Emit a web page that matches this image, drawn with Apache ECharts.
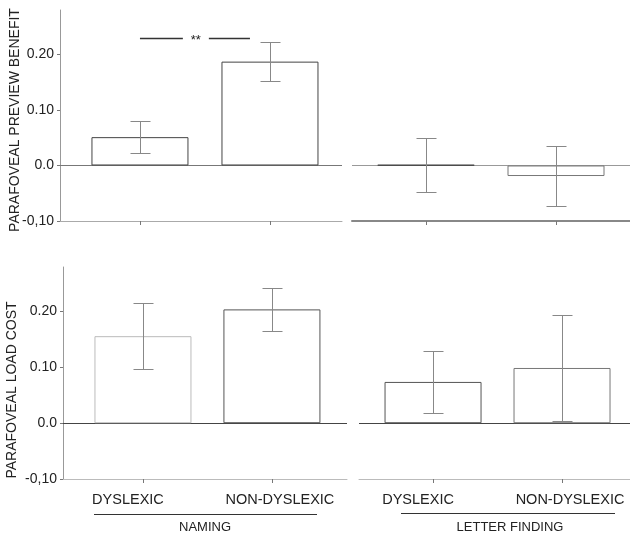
<!DOCTYPE html>
<html><head><meta charset="utf-8">
<script src="https://cdn.jsdelivr.net/npm/echarts@6/dist/echarts.min.js"></script>
<style>html,body{margin:0;padding:0;background:#fff}#c{width:630px;height:536px}</style>
</head><body><div id="c"></div>
<script>
// ---- data ----
const categories = ['DYSLEXIC', 'NON-DYSLEXIC'];
const tasks = ['NAMING', 'LETTER FINDING'];
const measures = ['PARAFOVEAL PREVIEW BENEFIT', 'PARAFOVEAL LOAD COST'];
const yTickValues = [-0.1, 0, 0.1, 0.2];
const yTickLabels = ['-0,10', '0.0', '0.10', '0.20'];
const previewNamingMean = [0.051, 0.187];
const previewNamingErr = [0.029, 0.035];
const previewLetterMean = [0.001, -0.019];
const previewLetterErr = [0.048, 0.054];
const loadNamingMean = [0.156, 0.204];
const loadNamingErr = [0.059, 0.039];
const loadLetterMean = [0.074, 0.099];
const loadLetterErr = [0.056, 0.095];
const significanceLabel = '**';
const significanceLevel = 0.229;

// ---- layout / style ----
const FONT = "'Liberation Sans', Arial, sans-serif";
const panels = [
  {mean: previewNamingMean, err: previewNamingErr, grid: {left: 60, width: 282, top: 10, height: 211}, xMin: 0.385, xMax: 2.554, showY: true, showX: false,
   zeroColor: '#777', bottomColor: '#aaa', bottomWidth: 1, borders: ['#444', '#444']},
  {mean: previewLetterMean, err: previewLetterErr, grid: {left: 352, width: 278, top: 10, height: 211}, xMin: 0.431, xMax: 2.569, showY: false, showX: false,
   zeroColor: '#999', bottomColor: '#888', bottomWidth: 2, borders: ['#444', '#777']},
  {mean: loadNamingMean, err: loadNamingErr, grid: {left: 63, width: 284, top: 267, height: 212}, xMin: 0.38, xMax: 2.582, showY: true, showX: true,
   zeroColor: '#444', bottomColor: '#bbb', bottomWidth: 1, borders: ['#bbb', '#555']},
  {mean: loadLetterMean, err: loadLetterErr, grid: {left: 359, width: 271, top: 267, height: 212}, xMin: 0.426, xMax: 2.527, showY: false, showX: true,
   zeroColor: '#444', bottomColor: '#bbb', bottomWidth: 1, borders: ['#555', '#777']}
];
const catPos = categories.map((c, i) => i + 1);

const grids = [], xAxes = [], yAxes = [], series = [];
panels.forEach((p, k) => {
  grids.push(Object.assign({containLabel: false}, p.grid));
  xAxes.push({
    type: 'value', gridIndex: k, min: p.xMin, max: p.xMax, position: 'bottom',
    axisLine: {show: true, onZero: false, lineStyle: {color: p.bottomColor, width: p.bottomWidth}},
    axisTick: {show: true, customValues: catPos, length: 4, lineStyle: {color: '#777'}},
    axisLabel: {show: p.showX, customValues: catPos, margin: 13,
      formatter: v => (Math.round(v) === 1 ? '{a|' : '{b|') + categories[Math.round(v) - 1] + '}',
      rich: {a: {fontSize: 14.5, fontFamily: FONT, color: '#222', padding: [0, 30, 0, 0]},
             b: {fontSize: 14.5, fontFamily: FONT, color: '#222', padding: [0, 0, 0, 16]}}},
    splitLine: {show: false}
  });
  yAxes.push({
    type: 'value', gridIndex: k, min: -0.1, max: 0.28, show: p.showY,
    axisLine: {show: true, onZero: false, lineStyle: {color: '#999'}},
    axisTick: {show: true, customValues: yTickValues, length: 3, lineStyle: {color: '#777'}},
    axisLabel: {customValues: yTickValues, margin: 6, fontSize: 14, fontFamily: FONT, color: '#222',
      formatter: v => { const i = yTickValues.findIndex(t => Math.abs(t - v) < 1e-6); return i >= 0 ? yTickLabels[i] : ''; }},
    splitLine: {show: false}
  });
  series.push({
    type: 'bar', xAxisIndex: k, yAxisIndex: k, barWidth: 97, silent: true, animation: false,
    data: p.mean.map((m, i) => ({value: [catPos[i], m], itemStyle: {color: '#fff', borderColor: p.borders[i], borderWidth: 1}})),
    markLine: {silent: true, z: 1, symbol: ['none', 'none'], label: {show: false}, animation: false,
      lineStyle: {color: p.zeroColor, width: 1, type: 'solid'}, data: [{yAxis: 0}]},
    z: 2
  });
  series.push({
    type: 'custom', xAxisIndex: k, yAxisIndex: k, silent: true, animation: false, z: 5,
    encode: {x: 0, y: [1, 2]},
    data: p.mean.map((m, i) => [catPos[i], m - p.err[i], m + p.err[i]]),
    renderItem: (params, api) => {
      const x = api.value(0);
      const lo = api.coord([x, api.value(1)]);
      const hi = api.coord([x, api.value(2)]);
      const cx = Math.round(lo[0]) + 0.5, y1 = Math.round(hi[1]) + 0.5, y2 = Math.round(lo[1]) + 0.5, hw = 10;
      const st = {stroke: '#888', lineWidth: 1};
      return {type: 'group', children: [
        {type: 'line', shape: {x1: cx, y1: y1, x2: cx, y2: y2}, style: st},
        {type: 'line', shape: {x1: cx - hw, y1: y1, x2: cx + hw, y2: y1}, style: st},
        {type: 'line', shape: {x1: cx - hw, y1: y2, x2: cx + hw, y2: y2}, style: st}
      ]};
    }
  });
});

const chart = echarts.init(document.getElementById('c'), null, {renderer: 'canvas'});
chart.setOption({
  animation: false,
  grid: grids, xAxis: xAxes, yAxis: yAxes, series: series
});

// annotations
const sigA = chart.convertToPixel({gridIndex: 0}, [1, significanceLevel]);
const sigB = chart.convertToPixel({gridIndex: 0}, [1.33, significanceLevel]);
const sigC = chart.convertToPixel({gridIndex: 0}, [1.53, significanceLevel]);
const sigD = chart.convertToPixel({gridIndex: 0}, [1.846, significanceLevel]);
const sy = Math.round(sigA[1]) + 0.5;
const txt = {fill: '#222', fontFamily: FONT};
chart.setOption({
  graphic: [
    {type: 'text', x: 15, y: 120, rotation: Math.PI / 2, style: Object.assign({text: measures[0], fontSize: 14, align: 'center', verticalAlign: 'middle'}, txt)},
    {type: 'text', x: 12, y: 390, rotation: Math.PI / 2, style: Object.assign({text: measures[1], fontSize: 14, align: 'center', verticalAlign: 'middle'}, txt)},
    {type: 'line', shape: {x1: sigA[0], y1: sy, x2: sigB[0], y2: sy}, style: {stroke: '#333', lineWidth: 1.5}},
    {type: 'line', shape: {x1: sigC[0], y1: sy, x2: sigD[0], y2: sy}, style: {stroke: '#333', lineWidth: 1.5}},
    {type: 'text', x: (sigB[0] + sigC[0]) / 2, y: sy + 2, style: Object.assign({text: significanceLabel, fontSize: 13, align: 'center', verticalAlign: 'middle'}, txt)},
    {type: 'line', shape: {x1: 94, y1: 514.5, x2: 317, y2: 514.5}, style: {stroke: '#333', lineWidth: 1}},
    {type: 'line', shape: {x1: 401, y1: 513.5, x2: 615, y2: 513.5}, style: {stroke: '#333', lineWidth: 1}},
    {type: 'text', x: 205, y: 527, style: Object.assign({text: tasks[0], fontSize: 13, align: 'center', verticalAlign: 'middle'}, txt)},
    {type: 'text', x: 510, y: 527, style: Object.assign({text: tasks[1], fontSize: 13, align: 'center', verticalAlign: 'middle'}, txt)}
  ]
});
</script></body></html>
